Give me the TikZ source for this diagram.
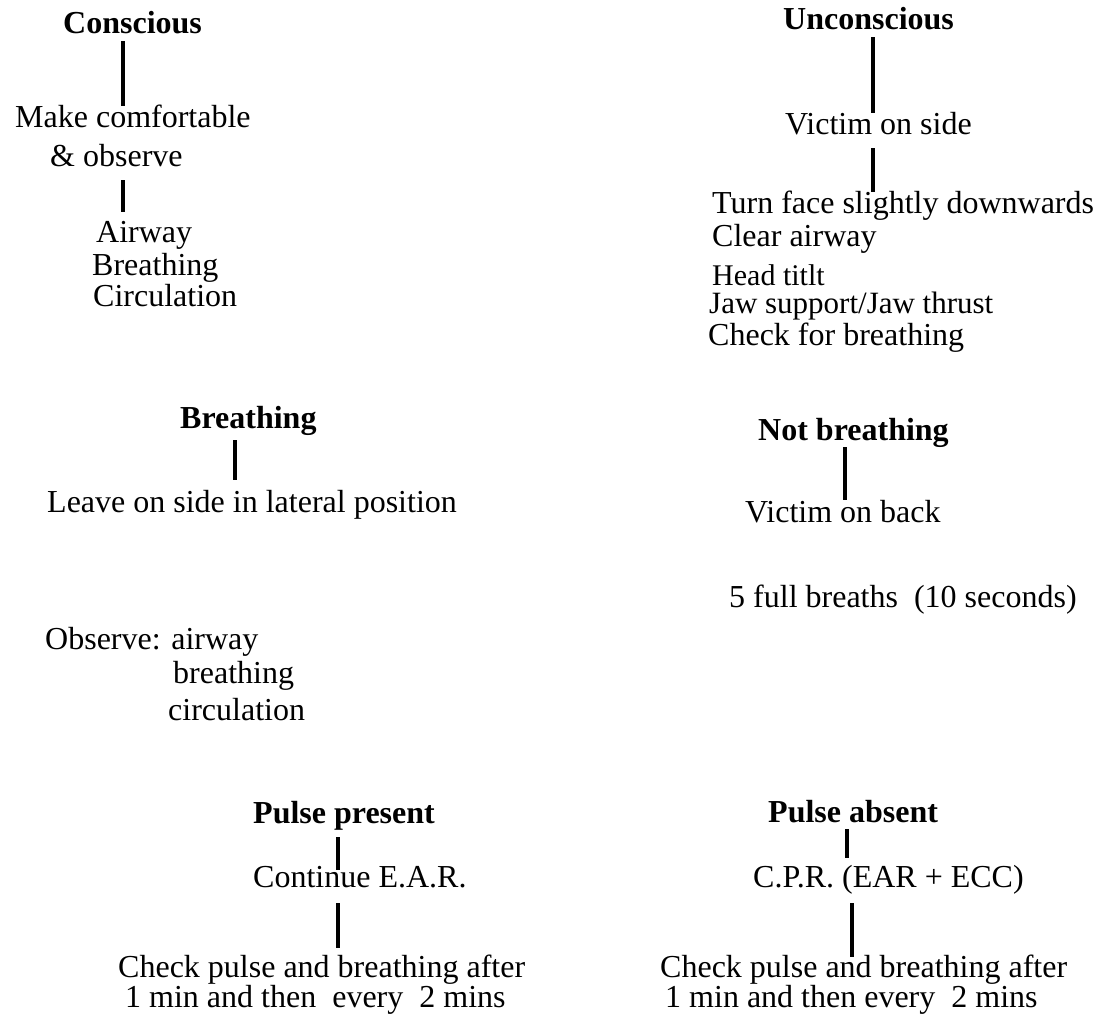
\documentclass[tikz,border=0pt]{standalone}
\usepackage{fontspec}
\setmainfont{Liberation Serif}
\begin{document}
\begin{tikzpicture}[x=1pt,y=-1pt,
  lbl/.style={anchor=base west, inner sep=0pt, font=\fontsize{32}{38}\selectfont, text height=22pt, text depth=7pt},
  hd/.style={lbl, font=\fontsize{32}{38}\selectfont\bfseries},
  link/.style={line width=4.5pt}]
\useasboundingbox (0,0) rectangle (1107,1024);
% left column (conscious)
\node[hd]  (consc) at (63,34)   {Conscious};
\node[lbl] (make)  at (15,128)  {Make comfortable};
\node[lbl] (obs)   at (50,167)  {\& observe};
\node[lbl] (airw)  at (96,242)  {Airway};
\node[lbl] (brth)  at (92,275)  {Breathing};
\node[lbl] (circ)  at (93,306)  {Circulation};
% right column (unconscious)
\node[hd]  (unc)   at (783,30)  {Unconscious};
\node[lbl] (vside) at (785,135) {Victim on side};
\node[lbl] (turn)  at (712,214) {Turn face slightly downwards};
\node[lbl] (clear) at (712,247) {Clear airway};
\node[lbl, font=\fontsize{30}{34}\selectfont, text depth=0pt] (head)  at (712,285) {Head titlt};
\node[lbl, font=\fontsize{31}{36}\selectfont, text height=19pt] (jaw)   at (709,313) {Jaw support/Jaw thrust};
\node[lbl] (chk)   at (708,345) {Check for breathing};
% breathing / not breathing
\node[hd]  (yb)    at (180,428) {Breathing};
\node[lbl] (leave) at (47,512)  {Leave on side in lateral position};
\node[hd]  (nb)    at (758,440) {Not breathing};
\node[lbl] (vback) at (745,522) {Victim on back};
\node[lbl] (five)  at (729,607) {5 full breaths\ \ (10 seconds)};
\node[lbl] (obsv)  at (45,649)  {Observe: airway};
\node[lbl] (obsb)  at (173,683) {breathing};
\node[lbl] (obsc)  at (168,720) {circulation};
% pulse
\node[hd]  (pp)    at (253,823) {Pulse present};
\node[lbl] (cont)  at (253,887) {Continue E.A.R.};
\node[lbl] (chkL1) at (118,977) {Check pulse and breathing after};
\node[lbl] (chkL2) at (125,1007) {1 min and then\ \ every\ \ 2 mins};
\node[hd]  (pa)    at (768,822) {Pulse absent};
\node[lbl] (cpr)   at (753,887) {C.P.R. (EAR + ECC)};
\node[lbl] (chkR1) at (660,977) {Check pulse and breathing after};
\node[lbl] (chkR2) at (665,1007) {1 min and then every\ \ 2 mins};
% x positions of connectors
\coordinate (xa) at (123,0);
\coordinate (xb) at (873,0);
\coordinate (xc) at (235,0);
\coordinate (xd) at (845,0);
\coordinate (xe) at (338,0);
\coordinate (xf) at (847,0);
\coordinate (xg) at (852,0);
% connectors
\draw[link] (consc.south -| xa) -- (make.north -| xa);
\draw[link, shorten <=6pt, shorten >=8pt] (obs.south -| xa) -- (airw.north -| xa);
\draw[link] (unc.south -| xb) -- (vside.north -| xb);
\draw[link, shorten <=6pt] (vside.south -| xb) -- (turn.north -| xb);
\draw[link, shorten <=5pt, shorten >=10pt] (yb.south -| xc) -- (leave.north -| xc);
\draw[link] (nb.south -| xd) -- (vback.north -| xd);
\draw[link, shorten <=7pt, shorten >=-5pt] (pp.south -| xe) -- (cont.north -| xe);
\draw[link, shorten <=9pt, shorten >=7pt] (cont.south -| xe) -- (chkL1.north -| xe);
\draw[link, shorten >=7pt] (pa.south -| xf) -- (cpr.north -| xf);
\draw[link, shorten <=9pt, shorten >=-2pt] (cpr.south -| xg) -- (chkR1.north -| xg);
\end{tikzpicture}
\end{document}
